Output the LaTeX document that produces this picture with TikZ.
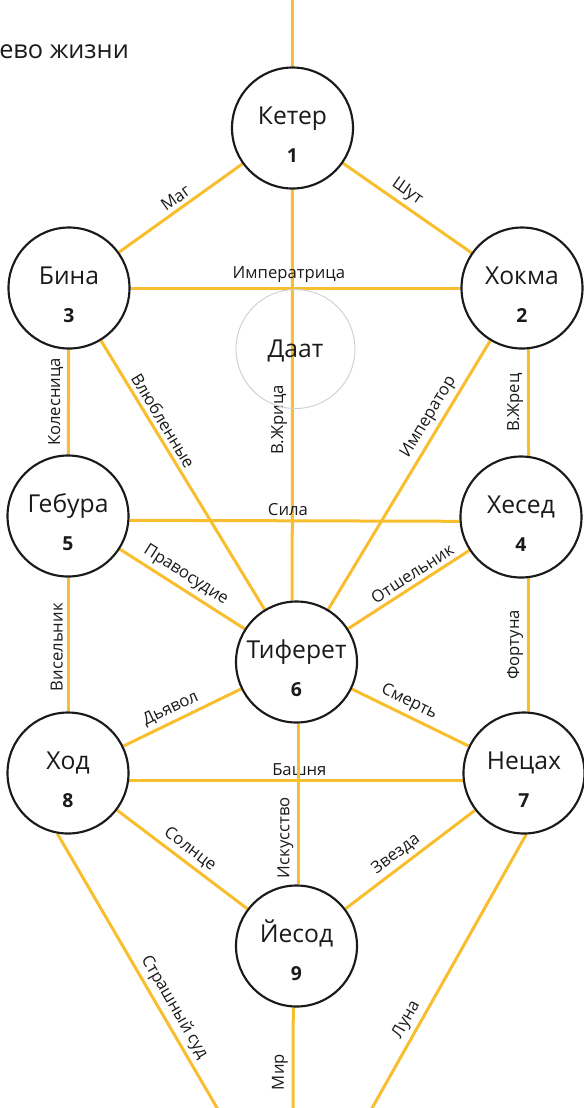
\documentclass[tikz,border=0pt]{standalone}
\usepackage{fontspec}
\setmainfont{Open Sans}
\usetikzlibrary{backgrounds}

\definecolor{gold}{HTML}{F8BE2E}
\definecolor{ink}{HTML}{1A1A1A}
\definecolor{daatgray}{HTML}{CFCFCF}

\tikzset{
  sefira/.style={circle,draw=ink,line width=1.6pt,fill=white,minimum size=90.75pt,inner sep=0pt},
  daatring/.style={circle,draw=daatgray,line width=0.7pt,minimum size=89.25pt,inner sep=0pt,
    text=ink,font=\fontsize{18.5}{21}\selectfont,text height=13.2pt,text depth=0pt},
  sname/.style={anchor=base,inner sep=0pt,text=ink,font=\fontsize{18.5}{21}\selectfont},
  snum/.style={anchor=base,inner sep=0pt,text=ink,font=\bfseries\fontsize{14.5}{17}\selectfont},
  tarot/.style={draw=gold,line width=2.25pt},
  card/.style={text=ink,inner sep=2.8pt,above,font=\fontsize{12.5}{14}\selectfont},
  scard/.style={card,sloped},
  vcard/.style={card,rotate=90},
}

\begin{document}
\begin{tikzpicture}[x=0.75pt,y=-0.75pt]
\useasboundingbox (0,0) rectangle (584,1108);

% title (cut at the left edge)
\node[anchor=base west,inner sep=0pt,text=ink,font=\fontsize{19}{23}\selectfont] (title) at (-1,58) {ево жизни};

% sefirot
\node[sefira] (keter) at (292.5,128) {};
\node[sname] (keter-name) at ([yshift=3pt]keter.center) {Кетер};
\node[snum] (keter-num) at ([yshift=-25.8pt]keter.center) {1};
\node[sefira] (hokma) at (522,288) {};
\node[sname] (hokma-name) at ([yshift=3pt]hokma.center) {Хокма};
\node[snum] (hokma-num) at ([yshift=-25.8pt]hokma.center) {2};
\node[sefira] (bina) at (69,288) {};
\node[sname] (bina-name) at ([yshift=3pt]bina.center) {Бина};
\node[snum] (bina-num) at ([yshift=-25.8pt]bina.center) {3};
\node[daatring] (daat) at (295.5,349) {Даат};
\node[sefira] (hesed) at (521,517) {};
\node[sname] (hesed-name) at ([yshift=3pt]hesed.center) {Хесед};
\node[snum] (hesed-num) at ([yshift=-25.8pt]hesed.center) {4};
\node[sefira] (gebura) at (68,516) {};
\node[sname] (gebura-name) at ([yshift=3pt]gebura.center) {Гебура};
\node[snum] (gebura-num) at ([yshift=-25.8pt]gebura.center) {5};
\node[sefira] (tiferet) at (296.5,662) {};
\node[sname] (tiferet-name) at ([yshift=3pt]tiferet.center) {Тиферет};
\node[snum] (tiferet-num) at ([yshift=-25.8pt]tiferet.center) {6};
\node[sefira] (netsah) at (524,773) {};
\node[sname] (netsah-name) at ([yshift=3pt]netsah.center) {Нецах};
\node[snum] (netsah-num) at ([yshift=-25.8pt]netsah.center) {7};
\node[sefira] (hod) at (68,773) {};
\node[sname] (hod-name) at ([yshift=3pt]hod.center) {Ход};
\node[snum] (hod-num) at ([yshift=-25.8pt]hod.center) {8};
\node[sefira] (yesod) at (296.5,946) {};
\node[sname] (yesod-name) at ([yshift=3pt]yesod.center) {Йесод};
\node[snum] (yesod-num) at ([yshift=-25.8pt]yesod.center) {9};

% free ends beyond the page
\coordinate (topend) at (292.5,-12);
\coordinate (sudend) at (227,1125);
\coordinate (mirend) at (293,1125);
\coordinate (lunaend) at (362.5,1125);

% paths
\begin{pgfonlayer}{background}
\draw[tarot] (keter) -- (topend);
\draw[tarot] (bina) -- node[scard,pos=0.51] {Маг} (keter);
\draw[tarot] (keter) -- node[scard,pos=0.44] {Шут} (hokma);
\draw[tarot] (tiferet.94) -- node[vcard,pos=0.44] {В.Жрица} (keter);
\draw[tarot] (bina) -- node[scard,pos=0.48] {Императрица} (hokma);
\draw[tarot] (gebura) -- node[vcard] {Колесница} (bina);
\draw[tarot] (bina) -- node[scard,pos=0.32] {Влюбленные} (tiferet);
\draw[tarot] (hesed.83) -- node[vcard] {В.Жрец} (hokma.-84);
\draw[tarot] (tiferet) -- node[scard,pos=0.69] {Император} (hokma);
\draw[tarot] (gebura.-4) -- node[scard,pos=0.48] {Сила} (hesed.-176);
\draw[tarot] (gebura) -- node[scard,pos=0.47] {Правосудие} (tiferet);
\draw[tarot] (tiferet) -- node[scard,pos=0.58] {Отшельник} (hesed);
\draw[tarot] (netsah.86) -- node[vcard] {Фортуна} (hesed.-83);
\draw[tarot] (hod) -- node[vcard,pos=0.48] {Висельник} (gebura);
\draw[tarot] (hod) -- node[scard,pos=0.45] {Дьявол} (tiferet);
\draw[tarot] (tiferet) -- node[scard,pos=0.44] {Смерть} (netsah);
\draw[tarot] (hod.-7) -- node[scard,pos=0.51] {Башня} (netsah.-173);
\draw[tarot] (yesod.88) -- node[vcard,pos=0.29] {Искусство} (tiferet.-88);
\draw[tarot] (hod) -- node[scard,pos=0.5] {Солнце} (yesod);
\draw[tarot] (yesod) -- node[scard,pos=0.45] {Звезда} (netsah);
\draw[tarot] (hod.-100) -- node[scard,pos=0.62] {Страшный суд} (sudend);
\draw[tarot] (mirend) -- node[vcard,pos=0.45] {Мир} (yesod.-93);
\draw[tarot] (lunaend) -- node[scard,pos=0.34] {Луна} (netsah.-88);
\end{pgfonlayer}
\end{tikzpicture}
\end{document}
